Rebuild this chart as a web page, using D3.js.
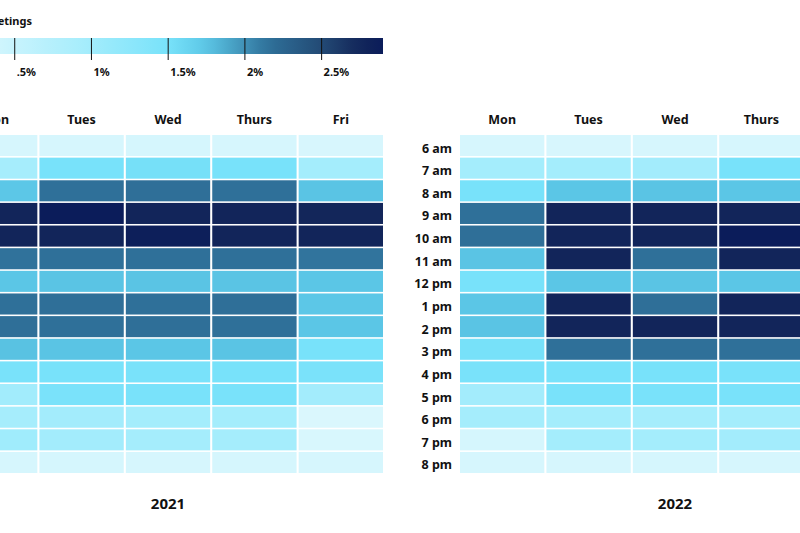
<!DOCTYPE html>
<html>
<head>
<meta charset="utf-8">
<script src="https://cdn.jsdelivr.net/npm/d3@7"></script>
<style>
  body { margin: 0; background: #fff; overflow: hidden; }
  text { font-family: "Noto Sans", "Open Sans", sans-serif; font-weight: bold; fill: #111; }
</style>
</head>
<body>
<svg id="chart"></svg>
<script>
// data (percent of meetings)
var days = ["Mon", "Tues", "Wed", "Thurs", "Fri"];
var hours = ["6 am", "7 am", "8 am", "9 am", "10 am", "11 am", "12 pm",
             "1 pm", "2 pm", "3 pm", "4 pm", "5 pm", "6 pm", "7 pm", "8 pm"];
var legendTicks = [0.5, 1, 1.5, 2, 2.5];
var legendLabels = [".5%", "1%", "1.5%", "2%", "2.5%"];

var values2021 = [
    [0.30, 0.30, 0.31, 0.30, 0.29],
    [0.95, 1.50, 1.52, 1.50, 0.97],
    [1.74, 2.15, 2.16, 2.15, 1.76],
    [2.76, 2.92, 2.76, 2.76, 2.75],
    [2.76, 2.77, 2.86, 2.76, 2.76],
    [2.14, 2.15, 2.15, 2.15, 2.13],
    [1.75, 1.76, 1.76, 1.76, 1.75],
    [2.15, 2.16, 2.15, 2.16, 1.74],
    [2.16, 2.15, 2.16, 2.15, 1.75],
    [1.77, 1.76, 1.75, 1.76, 1.50],
    [1.49, 1.50, 1.49, 1.50, 1.48],
    [1.00, 1.48, 1.49, 1.49, 0.98],
    [0.95, 0.98, 0.97, 0.97, 0.22],
    [1.02, 0.98, 0.96, 0.96, 0.26],
    [0.30, 0.31, 0.30, 0.31, 0.30]
];

var values2022 = [
    [0.30, 0.29, 0.30, 0.30, 0.28],
    [0.97, 0.97, 0.98, 1.50, 0.96],
    [1.50, 1.75, 1.76, 1.75, 1.52],
    [2.15, 2.76, 2.76, 2.77, 2.16],
    [2.16, 2.77, 2.77, 2.90, 2.15],
    [1.76, 2.77, 2.15, 2.77, 1.75],
    [1.50, 1.75, 1.76, 1.75, 1.49],
    [1.75, 2.77, 2.16, 2.77, 1.76],
    [1.76, 2.76, 2.77, 2.77, 1.74],
    [1.51, 2.15, 2.15, 2.15, 1.50],
    [1.49, 1.50, 1.50, 1.49, 1.48],
    [0.98, 1.49, 1.49, 1.49, 0.97],
    [0.96, 0.97, 0.96, 0.97, 0.32],
    [0.32, 0.97, 0.97, 0.98, 0.30],
    [0.30, 0.30, 0.31, 0.30, 0.29]
];

var W = 800, H = 533;
var svg = d3.select("#chart").attr("width", W).attr("height", H);

var color = d3.scaleLinear()
    .domain([0, 0.3, 0.95, 1.5, 1.75, 2.15, 2.5, 2.75, 2.9])
    .range(["#e6fafe", "#d6f6fd", "#a6edfc", "#78e2fa", "#5bc6e6",
            "#2f7099", "#234a75", "#13265a", "#0b1c5a"])
    .clamp(true);

// legend
var legendX = d3.scaleLinear().domain([0, 2.9]).range([-62, 383]);
var defs = svg.append("defs");
var grad = defs.append("linearGradient").attr("id", "legendGrad");
d3.range(0, 2.91, 0.1).forEach(function(v) {
    grad.append("stop")
        .attr("offset", (v / 2.9 * 100) + "%")
        .attr("stop-color", color(v));
});

var legend = svg.append("g");
legend.append("text")
    .attr("x", 32).attr("y", 25)
    .attr("text-anchor", "end")
    .style("font-size", "11px")
    .text("% of meetings");
legend.append("rect")
    .attr("x", legendX(0)).attr("y", 38)
    .attr("width", legendX(2.9) - legendX(0)).attr("height", 16)
    .attr("fill", "url(#legendGrad)");
legend.selectAll(".tick")
    .data(legendTicks)
    .enter()
    .append("line")
    .attr("x1", function(d) { return legendX(d); })
    .attr("x2", function(d) { return legendX(d); })
    .attr("y1", 38).attr("y2", 60)
    .attr("stroke", "#111").attr("stroke-width", 1);
legend.selectAll(".lbl")
    .data(legendTicks)
    .enter()
    .append("text")
    .attr("x", function(d) { return legendX(d) + 2; })
    .attr("y", 76)
    .style("font-size", "11px")
    .text(function(d, i) { return legendLabels[i]; });

// one heatmap panel
function panel(x0, values, year) {
    var g = svg.append("g");
    var x = d3.scaleBand().domain(days).range([x0, x0 + 430]).paddingInner(0.024);
    var y = d3.scaleBand().domain(hours).range([135, 473]).paddingInner(0.07);

    var cells = [];
    values.forEach(function(row, j) {
        row.forEach(function(v, i) {
            cells.push({ day: days[i], hour: hours[j], value: v });
        });
    });

    g.selectAll("rect")
        .data(cells)
        .enter()
        .append("rect")
        .attr("x", function(d) { return x(d.day); })
        .attr("y", function(d) { return y(d.hour); })
        .attr("width", x.bandwidth())
        .attr("height", y.bandwidth())
        .attr("fill", function(d) { return color(d.value); });

    g.selectAll(".day")
        .data(days)
        .enter()
        .append("text")
        .attr("x", function(d) { return x(d) + x.bandwidth() / 2; })
        .attr("y", 124)
        .attr("text-anchor", "middle")
        .style("font-size", "12.5px")
        .text(function(d) { return d; });

    g.selectAll(".hour")
        .data(hours)
        .enter()
        .append("text")
        .attr("x", x0 - 8)
        .attr("y", function(d) { return y(d) + y.bandwidth() / 2 + 7; })
        .attr("text-anchor", "end")
        .style("font-size", "12.5px")
        .text(function(d) { return d; });

    g.append("text")
        .attr("x", x0 + 215)
        .attr("y", 509)
        .attr("text-anchor", "middle")
        .style("font-size", "15px")
        .text(year);
}

panel(-47, values2021, "2021");
panel(460, values2022, "2022");
</script>
</body>
</html>
